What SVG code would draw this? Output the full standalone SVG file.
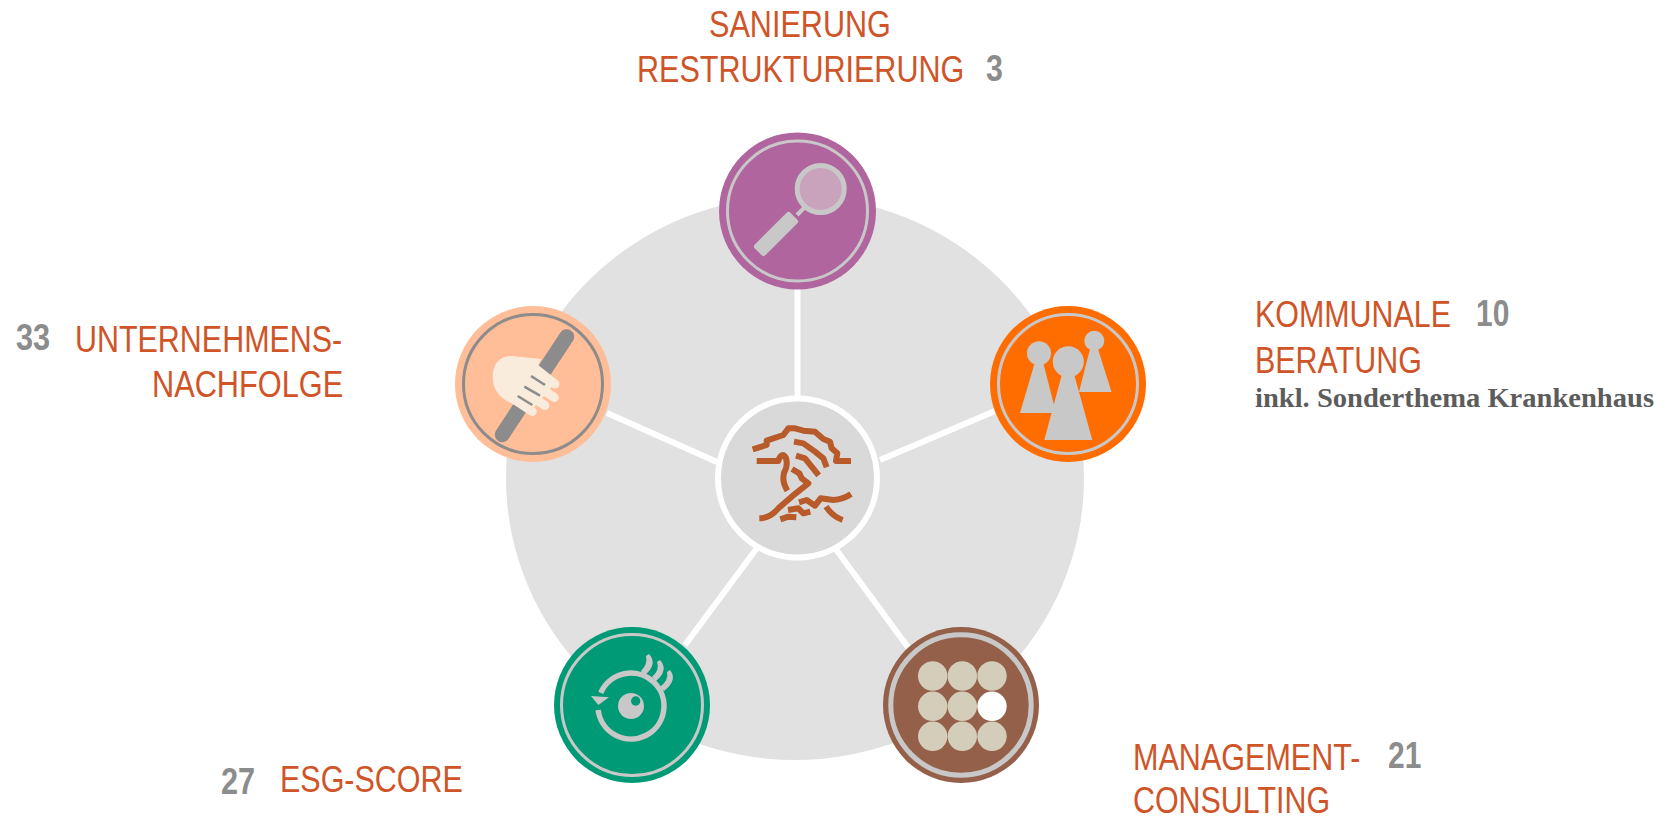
<svg xmlns="http://www.w3.org/2000/svg" width="1672" height="818" viewBox="0 0 1672 818">
<style>
.t{font-family:"Liberation Sans",Arial,sans-serif;font-size:37px;fill:#cf5528}
.n{font-family:"Liberation Sans",Arial,sans-serif;font-size:37px;font-weight:700;fill:#8c8c8c}
.s{font-family:"Liberation Serif","Times New Roman",serif;font-size:27px;font-weight:700;fill:#5c5c5c}
.ring{fill:none;stroke:#c8c8c8;stroke-width:3}
.i{fill:#c8c8c8}
.sp{stroke:#fff;stroke-width:6;fill:none}
.w{fill:none;stroke:#b95a2b;stroke-width:18;stroke-linejoin:round;stroke-linecap:butt}
</style>
<ellipse id="backdrop" cx="795" cy="478" rx="289" ry="282" fill="#e1e1e1"/>
<g id="connectors">
<line class="sp" x1="797.5" y1="289" x2="797.5" y2="397"/>
<line class="sp" x1="880" y1="460" x2="995" y2="411"/>
<line class="sp" x1="717" y1="462" x2="607" y2="413"/>
<line class="sp" x1="757" y1="548" x2="685" y2="645"/>
<line class="sp" x1="835" y1="548" x2="910" y2="650"/>
</g>
<g id="center">
<circle cx="797.5" cy="478" r="79.5" fill="#d9d9d9" stroke="#fff" stroke-width="6"/>
<g transform="translate(700 390) scale(.33333)">
<path class="w" d="M158 178L200 165V152L250 135L265 115H285L310 122L345 125L370 147L390 155L395 175L412 190L408 213H453"/>
<path class="w" d="M170 213H235Q240 195 250 195Q265 205 258 235Q240 265 262 302"/>
<path class="w" d="M282 155L310 160L345 185L370 205L380 232"/>
<path class="w" d="M288 197L315 205L335 230L356 256"/>
<path class="w" d="M276 237L298 250L305 265L325 280L275 320L235 355Q210 385 178 385"/>
<path class="w" d="M297 337L320 330L345 347L362 325L400 330Q430 328 453 312"/>
<path class="w" d="M264 360L295 355L310 370L331 365"/>
<path class="w" d="M241 388L265 380L289 382"/>
<path class="w" d="M378 350Q398 380 428 390"/>
</g>
</g>
<g id="sanierung">
<circle cx="797.5" cy="211" r="78.5" fill="#b0659e"/>
<circle class="ring" cx="797.5" cy="211" r="70"/>
<circle cx="820.7" cy="189" r="23.5" fill="#c9a3bc" stroke="#c8c8c8" stroke-width="5"/>
<polygon class="i" stroke="#c8c8c8" stroke-width="6" stroke-linejoin="round" points="757,246.5 788.5,215 795,221.5 763.5,253"/>
<line x1="797" y1="215" x2="805" y2="207" stroke="#c8c8c8" stroke-width="4"/>
</g>
<g id="kommunale">
<circle cx="1068" cy="384" r="78" fill="#ff6d00"/>
<circle class="ring" cx="1068" cy="384" r="69.5"/>
<circle class="i" cx="1039" cy="353.3" r="12"/>
<polygon class="i" points="1035,362 1043,362 1056,413 1020,413"/>
<circle class="i" cx="1094.3" cy="340.7" r="10"/>
<polygon class="i" points="1090,349 1098,349 1111.5,392 1079,392"/>
<circle class="i" cx="1068.3" cy="361.7" r="15.5"/>
<polygon class="i" points="1062,374 1074,374 1092.3,440 1044.3,440"/>
</g>
<g id="nachfolge">
<circle cx="533" cy="384" r="78" fill="#ffbe98"/>
<circle cx="533" cy="384" r="69.5" fill="none" stroke="#8c8c8c" stroke-width="3"/>
<line x1="566.7" y1="336.7" x2="502.3" y2="434.7" stroke="#8c8c8c" stroke-width="15" stroke-linecap="round"/>
<path d="M511 356L541 359L537 368L555 383L530 412L511 403C498 397 492.7 388 492.7 377C492.7 364 500 356 511 356Z" fill="#f9ecdc"/>
<g stroke="#f9ecdc" stroke-width="9" stroke-linecap="round">
<line x1="535" y1="368.3" x2="555" y2="384"/>
<line x1="528.3" y1="380" x2="554.3" y2="397.5"/>
<line x1="521.7" y1="390" x2="545" y2="405.5"/>
<line x1="515" y1="400" x2="532.3" y2="411.5"/>
</g>
<g stroke="#8c8c8c" stroke-width="2.5">
<line x1="531" y1="376" x2="545" y2="385"/>
<line x1="524.3" y1="386.7" x2="540" y2="395.7"/>
<line x1="517.7" y1="396" x2="532.3" y2="405"/>
</g>
</g>
<g id="esg">
<circle cx="632" cy="705" r="78" fill="#009a77"/>
<circle class="ring" cx="632" cy="705" r="70.5"/>
<path d="M598.2 710A33 33 0 1 0 600.7 692.9" fill="none" stroke="#c8c8c8" stroke-width="5.5"/>
<polygon class="i" points="591,696 609,697.3 598.3,705"/>
<circle class="i" cx="631" cy="706" r="13"/>
<circle cx="635.7" cy="701" r="4.7" fill="#009a77"/>
<g class="i">
<path d="M649 654Q658 664 645 675L641 671Q648 664 646 656Z"/>
<path d="M660 660Q669 670 656 681L652 677Q660 670 657 662Z"/>
<path d="M670 670Q678 680 664 691L660 687Q669 680 667 672Z"/>
</g>
</g>
<g id="management">
<circle cx="961" cy="705" r="78" fill="#956049"/>
<circle cx="961" cy="705" r="70.2" fill="none" stroke="#c8c8c8" stroke-width="5"/>
<g fill="#d4cdb9">
<circle cx="932.7" cy="676" r="14.7"/><circle cx="962.3" cy="676" r="14.7"/><circle cx="992" cy="676" r="14.7"/>
<circle cx="932.7" cy="706.3" r="14.7"/><circle cx="962.3" cy="706.3" r="14.7"/>
<circle cx="932.7" cy="736.3" r="14.7"/><circle cx="962.3" cy="736.3" r="14.7"/><circle cx="992" cy="736.3" r="14.7"/>
</g>
<circle cx="992" cy="706.3" r="14.7" fill="#fff"/>
</g>
<g id="labels">
<text class="t" transform="translate(709 37) scale(.827 1)">SANIERUNG</text>
<text class="t" transform="translate(637 82) scale(.825 1)">RESTRUKTURIERUNG</text>
<text class="n" transform="translate(986 81) scale(.82 1)">3</text>
<text class="t" transform="translate(1255 327) scale(.822 1)">KOMMUNALE</text>
<text class="n" transform="translate(1476 326) scale(.81 1)">10</text>
<text class="t" transform="translate(1255 373) scale(.823 1)">BERATUNG</text>
<text class="s" x="1255" y="407" textLength="399" lengthAdjust="spacingAndGlyphs">inkl. Sonderthema Krankenhaus</text>
<text class="n" transform="translate(16 350) scale(.83 1)">33</text>
<text class="t" transform="translate(75 352) scale(.823 1)">UNTERNEHMENS-</text>
<text class="t" transform="translate(152 397) scale(.83 1)">NACHFOLGE</text>
<text class="n" transform="translate(221 794) scale(.83 1)">27</text>
<text class="t" transform="translate(280 792) scale(.824 1)">ESG-SCORE</text>
<text class="t" transform="translate(1133 770) scale(.826 1)">MANAGEMENT-</text>
<text class="n" transform="translate(1388 768) scale(.81 1)">21</text>
<text class="t" transform="translate(1133 813) scale(.822 1)">CONSULTING</text>
</g>
</svg>
